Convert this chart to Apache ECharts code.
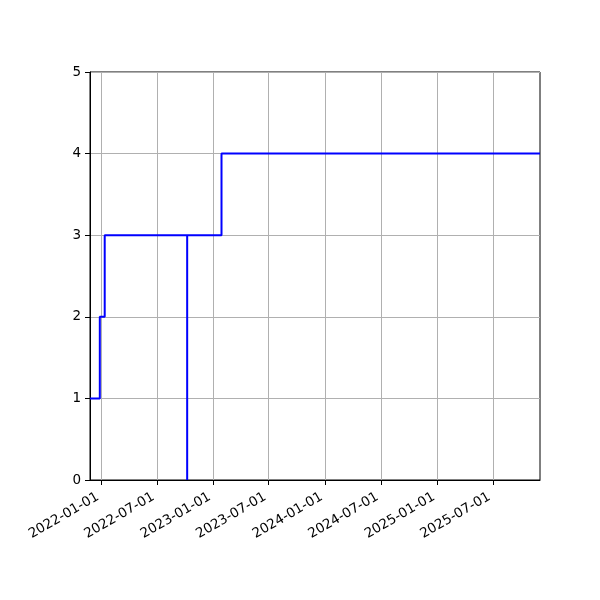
<!DOCTYPE html>
<html>
<head>
<meta charset="utf-8">
<script src="https://cdn.jsdelivr.net/npm/echarts@6/dist/echarts.min.js"></script>
<style>html,body{margin:0;padding:0;background:#fff}#c{width:600px;height:600px}</style>
</head>
<body>
<div id="c"></div>
<script>
// Data
const dates = ['2021-11-25', '2021-12-27', '2022-01-12', '2022-10-08', '2022-10-08', '2023-01-28', '2025-12-02'];
const values = [1, 2, 3, 0, 3, 4, 4];
const xTickLabels = ['2022-01-01', '2022-07-01', '2023-01-01', '2023-07-01', '2024-01-01', '2024-07-01', '2025-01-01', '2025-07-01'];
const yTicks = [0, 1, 2, 3, 4, 5];

function toTime(s) { return Date.parse(s + 'T00:00:00Z'); }
const xTickValues = xTickLabels.map(toTime);
const seriesData = dates.map((d, i) => [toTime(d), values[i]]);

const chart = echarts.init(document.getElementById('c'), null, {renderer: 'canvas'});
const font = 'DejaVu Sans';
chart.setOption({
  animation: false,
  backgroundColor: '#fff',
  grid: {left: 90, top: 72, width: 450, height: 408, show: true, borderColor: '#000', borderWidth: 1, backgroundColor: 'transparent'},
  xAxis: {
    type: 'value',
    min: toTime(dates[0]),
    max: toTime(dates[dates.length - 1]),
    axisLine: {show: true, onZero: false, lineStyle: {color: '#000', width: 1}},
    axisTick: {show: true, inside: false, length: 5, lineStyle: {color: '#000'}, customValues: xTickValues},
    axisLabel: {
      show: true, rotate: 30, margin: 14, padding: [0, 4, 0, 0], color: '#000', fontFamily: font, fontSize: 13.5,
      customValues: xTickValues,
      formatter: function (v) {
        const i = xTickValues.indexOf(v);
        return i >= 0 ? xTickLabels[i] : '';
      }
    },
    splitLine: {show: true, lineStyle: {color: '#b0b0b0', width: 1}}
  },
  yAxis: {
    type: 'value',
    min: yTicks[0], max: yTicks[yTicks.length - 1], interval: 1,
    axisLine: {show: true, lineStyle: {color: '#000', width: 1}},
    axisTick: {show: true, inside: false, length: 5, lineStyle: {color: '#000'}},
    axisLabel: {color: '#000', fontFamily: font, fontSize: 13.5, margin: 9},
    splitLine: {show: true, lineStyle: {color: '#b0b0b0', width: 1}}
  },
  series: [{
    type: 'line',
    step: 'end',
    data: seriesData,
    showSymbol: false,
    symbol: 'none',
    lineStyle: {color: '#0000ff', width: 2},
    clip: true,
    z: 5
  }]
});
</script>
</body>
</html>
